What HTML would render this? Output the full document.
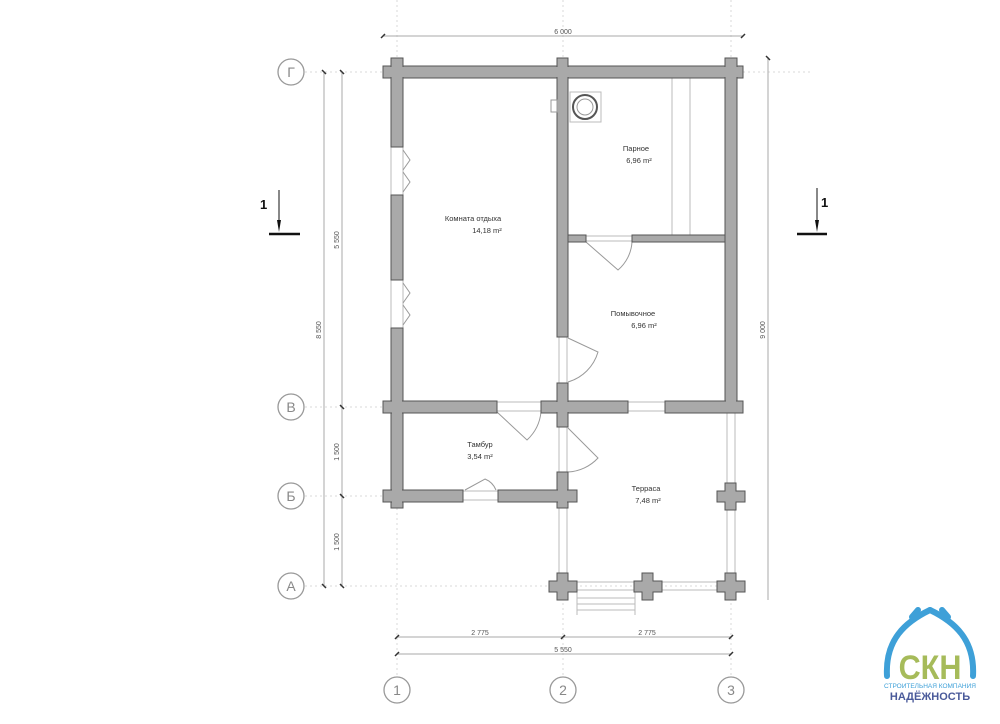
<!DOCTYPE html>
<html><head><meta charset="utf-8"><style>
html,body{margin:0;padding:0;background:#fff;}
svg{display:block;}
text{font-family:"Liberation Sans",sans-serif;}
</style></head><body>
<svg width="1000" height="724" viewBox="0 0 1000 724" xmlns="http://www.w3.org/2000/svg">
<g stroke="#d8d8d8" stroke-width="1" stroke-dasharray="2,3" fill="none">
<line x1="305" y1="72" x2="390" y2="72"/><line x1="743" y1="72" x2="810" y2="72"/>
<line x1="305" y1="407" x2="390" y2="407"/>
<line x1="305" y1="496" x2="390" y2="496"/>
<line x1="305" y1="586" x2="745" y2="586"/>
<line x1="397" y1="0" x2="397" y2="66"/><line x1="563" y1="0" x2="563" y2="66"/><line x1="731" y1="0" x2="731" y2="66"/>
<line x1="397" y1="508" x2="397" y2="676"/><line x1="563" y1="598" x2="563" y2="676"/><line x1="731" y1="598" x2="731" y2="676"/>
</g>
<g stroke="#aaa" stroke-width="1" fill="none">
<line x1="383" y1="36" x2="743" y2="36"/>
<line x1="324" y1="72" x2="324" y2="586"/>
<line x1="342" y1="72" x2="342" y2="586"/>
<line x1="768" y1="57" x2="768" y2="600"/>
<line x1="397" y1="637" x2="731" y2="637"/>
<line x1="397" y1="654" x2="731" y2="654"/>
</g>
<g stroke="#333" stroke-width="1.5">
<line x1="381" y1="38" x2="385" y2="34"/><line x1="741" y1="38" x2="745" y2="34"/>
<line x1="322" y1="70" x2="326" y2="74"/><line x1="340" y1="70" x2="344" y2="74"/>
<line x1="340" y1="405" x2="344" y2="409"/><line x1="340" y1="494" x2="344" y2="498"/>
<line x1="322" y1="584" x2="326" y2="588"/><line x1="340" y1="584" x2="344" y2="588"/>
<line x1="766" y1="56" x2="770" y2="60"/>
<line x1="395" y1="639" x2="399" y2="635"/><line x1="561" y1="639" x2="565" y2="635"/><line x1="729" y1="639" x2="733" y2="635"/>
<line x1="395" y1="656" x2="399" y2="652"/><line x1="729" y1="656" x2="733" y2="652"/>
</g>
<g font-size="7" fill="#555" text-anchor="middle">
<text x="563" y="34">6 000</text>
<text x="480" y="635">2 775</text><text x="647" y="635">2 775</text>
<text x="563" y="652">5 550</text>
<text transform="translate(339,240) rotate(-90)">5 550</text>
<text transform="translate(321,330) rotate(-90)">8 550</text>
<text transform="translate(339,452) rotate(-90)">1 500</text>
<text transform="translate(339,542) rotate(-90)">1 500</text>
<text transform="translate(765,330) rotate(-90)">9 000</text>
</g>
<g fill="#fff" stroke="#999" stroke-width="1.3">
<circle cx="291" cy="72" r="13"/><circle cx="291" cy="407" r="13"/><circle cx="291" cy="496" r="13"/><circle cx="291" cy="586" r="13"/>
<circle cx="397" cy="690" r="13"/><circle cx="563" cy="690" r="13"/><circle cx="731" cy="690" r="13"/>
</g>
<g fill="#888" font-size="14" text-anchor="middle">
<text x="291" y="77">Г</text><text x="291" y="412">В</text><text x="291" y="501">Б</text><text x="291" y="591">А</text>
<text x="397" y="695">1</text><text x="563" y="695">2</text><text x="731" y="695">3</text>
</g>
<g stroke="#111">
<line x1="279" y1="190" x2="279" y2="228" stroke-width="1"/>
<line x1="269" y1="234" x2="300" y2="234" stroke-width="2.5"/>
<line x1="817" y1="188" x2="817" y2="228" stroke-width="1"/>
<line x1="797" y1="234" x2="827" y2="234" stroke-width="2.5"/>
</g>
<polygon points="277,220 281,220 279,232" fill="#111"/>
<polygon points="815,220 819,220 817,232" fill="#111"/>
<g font-size="13" font-weight="bold" fill="#111"><text x="260" y="209">1</text><text x="821" y="207">1</text></g>
<g stroke="#bbb" stroke-width="1" fill="none">
<line x1="559" y1="508" x2="559" y2="576"/><line x1="567" y1="508" x2="567" y2="576"/>
<line x1="727" y1="413" x2="727" y2="576"/><line x1="735" y1="413" x2="735" y2="576"/>
<line x1="577" y1="582" x2="638" y2="582"/><line x1="577" y1="590" x2="638" y2="590"/>
<line x1="658" y1="582" x2="717" y2="582"/><line x1="658" y1="590" x2="717" y2="590"/>
<line x1="559" y1="427" x2="559" y2="472"/><line x1="567" y1="427" x2="567" y2="472"/>
<line x1="559" y1="337" x2="559" y2="383"/><line x1="567" y1="337" x2="567" y2="383"/>
<line x1="391" y1="147" x2="391" y2="195"/><line x1="403" y1="147" x2="403" y2="195"/>
<line x1="391" y1="280" x2="391" y2="328"/><line x1="403" y1="280" x2="403" y2="328"/>
<line x1="497" y1="402" x2="541" y2="402"/><line x1="497" y1="411" x2="541" y2="411"/>
<line x1="628" y1="402" x2="665" y2="402"/><line x1="628" y1="411" x2="665" y2="411"/>
<line x1="463" y1="491" x2="498" y2="491"/><line x1="463" y1="500" x2="498" y2="500"/>
<line x1="586" y1="236" x2="632" y2="236"/><line x1="586" y1="241" x2="632" y2="241"/>
<line x1="577" y1="592" x2="577" y2="615"/><line x1="635" y1="592" x2="635" y2="615"/>
<line x1="577" y1="598" x2="635" y2="598"/><line x1="577" y1="604" x2="635" y2="604"/><line x1="577" y1="610" x2="635" y2="610"/>
<line x1="672" y1="78" x2="672" y2="235"/><line x1="690" y1="78" x2="690" y2="235"/>
</g>
<g stroke="#999" stroke-width="1" fill="none">
<path d="M586,242 L618,270 A40,40 0 0 0 632,242"/>
<path d="M568,338 L598,352 A44,44 0 0 1 568,382"/>
<path d="M497,412 L527,440 A44,44 0 0 0 541,412"/>
<path d="M568,428 L598,458 A44,44 0 0 1 568,472"/>
<path d="M465,490 L485,479 A20,20 0 0 1 496,490"/>
<path d="M403,150 L410,160 L403,170 M403,172 L410,182 L403,192"/>
<path d="M403,283 L410,293 L403,303 M403,305 L410,315 L403,325"/>
</g>
<g fill="#a9a9a9" stroke="#555" stroke-width="1">
<rect x="383" y="66" width="360" height="12"/>
<rect x="391" y="58" width="12" height="89"/>
<rect x="391" y="195" width="12" height="85"/>
<rect x="391" y="328" width="12" height="180"/>
<rect x="557" y="58" width="11" height="279"/>
<rect x="725" y="58" width="12" height="355"/>
<rect x="568" y="235" width="18" height="7"/>
<rect x="632" y="235" width="93" height="7"/>
<rect x="383" y="401" width="114" height="12"/>
<rect x="541" y="401" width="87" height="12"/>
<rect x="665" y="401" width="78" height="12"/>
<rect x="557" y="383" width="11" height="44"/>
<rect x="557" y="472" width="11" height="36"/>
<rect x="383" y="490" width="80" height="12"/>
<rect x="498" y="490" width="79" height="12"/>
<path d="M549,581 h8 v-8 h11 v8 h9 v11 h-9 v8 h-11 v-8 h-8 z"/>
<path d="M634,581 h8 v-8 h11 v8 h9 v11 h-9 v8 h-11 v-8 h-8 z"/>
<path d="M717,581 h8 v-8 h11 v8 h9 v11 h-9 v8 h-11 v-8 h-8 z"/>
<path d="M717,491 h8 v-8 h11 v8 h9 v11 h-9 v8 h-11 v-8 h-8 z"/>
</g>
<g fill="#a9a9a9">
<rect x="384" y="67" width="358" height="10"/><rect x="392" y="59" width="10" height="87"/>
<rect x="558" y="59" width="9" height="30"/><rect x="726" y="59" width="10" height="30"/>
<rect x="384" y="402" width="112" height="10"/><rect x="392" y="330" width="10" height="177"/>
<rect x="542" y="402" width="85" height="10"/><rect x="558" y="384" width="9" height="42"/>
<rect x="666" y="402" width="76" height="10"/><rect x="726" y="380" width="10" height="32"/>
<rect x="384" y="491" width="78" height="10"/><rect x="499" y="491" width="77" height="10"/><rect x="558" y="473" width="9" height="34"/>
</g>
<rect x="570" y="92" width="31" height="30" fill="none" stroke="#bbb"/>
<circle cx="585" cy="107" r="12" fill="none" stroke="#555" stroke-width="2"/>
<circle cx="585" cy="107" r="8" fill="none" stroke="#999"/>
<rect x="551" y="100" width="6" height="12" fill="#fff" stroke="#999"/>
<g font-size="7.5" fill="#333" text-anchor="middle">
<text x="473" y="221">Комната отдыха</text><text x="487" y="233">14,18 m²</text>
<text x="636" y="151">Парное</text><text x="639" y="163">6,96 m²</text>
<text x="633" y="316">Помывочное</text><text x="644" y="328">6,96 m²</text>
<text x="480" y="447">Тамбур</text><text x="480" y="459">3,54 m²</text>
<text x="646" y="491">Терраса</text><text x="648" y="503">7,48 m²</text>
</g>
<g fill="none" stroke="#3ea0d8" stroke-width="6" stroke-linecap="round">
<path d="M887,676 C885,640 905,622 930,610"/>
<path d="M973,676 C975,640 955,622 930,610"/>
<path d="M912,617 L918,610 M948,617 L942,610"/>
</g>
<text x="930" y="679" font-size="34" font-weight="bold" fill="#a6bb5a" text-anchor="middle" transform="translate(930,0) scale(0.9,1) translate(-930,0)">СКН</text>
<text x="930" y="688" font-size="6.5" fill="#3ea0d8" text-anchor="middle">СТРОИТЕЛЬНАЯ КОМПАНИЯ</text>
<text x="930" y="700" font-size="11" font-weight="bold" fill="#4a5a9a" text-anchor="middle">НАДЁЖНОСТЬ</text>
</svg>
</body></html>
